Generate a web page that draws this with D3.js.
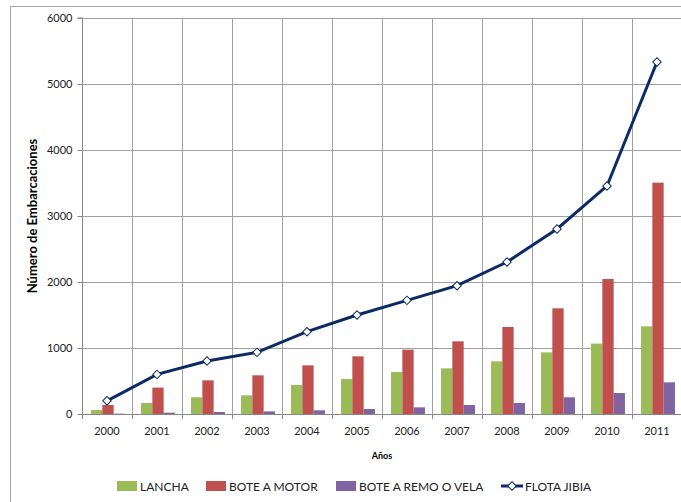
<!DOCTYPE html>
<html><head><meta charset="utf-8">
<script src="https://cdn.jsdelivr.net/npm/d3@7"></script>
<style>body{margin:0;background:#fff;} svg{display:block;font-family:Lato,"Liberation Sans",sans-serif;}</style>
</head><body>
<svg id="c" width="681" height="502"></svg>
<script>
const years = ["2000","2001","2002","2003","2004","2005","2006","2007","2008","2009","2010","2011"];
const lancha = [60,167,253,283,440,530,636,692,798,934,1066,1328];
const boteMotor = [136,400,510,586,737,874,975,1101,1318,1601,2045,3505];
const boteRemo = [5,20,30,40,56,76,101,136,167,253,318,480];
const flotaJibia = [200,600,803,934,1247,1500,1722,1944,2303,2803,3455,5333];
const yTicks = [0,1000,2000,3000,4000,5000,6000];
const barSeries = [
  {name:"LANCHA", values:lancha, color:"#9BBB59"},
  {name:"BOTE A MOTOR", values:boteMotor, color:"#C0504D"},
  {name:"BOTE A REMO O VELA", values:boteRemo, color:"#8064A2"}
];
const lineColor = "#0C2A66";

const svg = d3.select("#c");
const L=82, R=682, T=18, B=414;

// outer chart border
svg.append("path").attr("d","M10.5,520 V6.5 H700").attr("fill","none").attr("stroke","#a6a6a6");

const x = d3.scaleBand().domain(years).range([L,R]).paddingInner(0).paddingOuter(0);
const y = d3.scaleLinear().domain([0,6000]).range([B,T]);
const xb = d3.scaleBand().domain(barSeries.map(s=>s.name)).range([1,x.bandwidth()+1]).paddingInner(0).paddingOuter(0.71);

// horizontal grid
svg.append("g").selectAll("line").data(yTicks.slice(1)).join("line")
  .attr("x1",L).attr("x2",R).attr("y1",d=>Math.round(y(d))+0.5).attr("y2",d=>Math.round(y(d))+0.5)
  .attr("stroke","#a0a0a0");
// vertical grid
svg.append("g").selectAll("line").data(years.slice(1)).join("line")
  .attr("x1",d=>Math.round(x(d))+0.5).attr("x2",d=>Math.round(x(d))+0.5).attr("y1",T).attr("y2",B)
  .attr("stroke","#a0a0a0");

// bars
barSeries.forEach(s=>{
  svg.append("g").selectAll("rect").data(s.values).join("rect")
    .attr("x",(d,i)=>x(years[i])+xb(s.name))
    .attr("width",xb.bandwidth())
    .attr("y",d=>y(d)).attr("height",d=>B-y(d))
    .attr("fill",s.color);
});

// y axis
const ya = svg.append("g").attr("transform",`translate(${L+0.5},0)`)
  .call(d3.axisLeft(y).tickValues(yTicks).tickSize(5).tickPadding(5).tickFormat(d3.format("d")));
ya.select(".domain").attr("stroke","#868686").attr("d",`M-5,${T}H0V${B}`);
ya.selectAll(".tick line").attr("stroke","#868686");
ya.selectAll("text").attr("font-size",11).attr("fill","#222").style("font-family","Lato,sans-serif");

// x axis
const xa = svg.append("g").attr("transform",`translate(0,${B+0.5})`)
  .call(d3.axisBottom(x).tickSize(0).tickPadding(13));
xa.select(".domain").attr("stroke","#868686").attr("d",`M${L},0H${R}`);
xa.selectAll("text").attr("font-size",11).attr("fill","#222").style("font-family","Lato,sans-serif");
svg.append("g").selectAll("line").data(years).join("line")
  .attr("x1",d=>Math.round(x(d))+0.5).attr("x2",d=>Math.round(x(d))+0.5)
  .attr("y1",B).attr("y2",B+5).attr("stroke","#868686");

// line
const cx = d=>x(d)+x.bandwidth()/2;
svg.append("path").datum(flotaJibia)
  .attr("d",d3.line().x((d,i)=>cx(years[i])).y(d=>y(d)))
  .attr("fill","none").attr("stroke",lineColor).attr("stroke-width",3);
svg.append("g").selectAll("path").data(flotaJibia).join("path")
  .attr("transform",(d,i)=>`translate(${cx(years[i])},${y(d)}) rotate(45)`)
  .attr("d",d3.symbol().type(d3.symbolSquare).size(36))
  .attr("fill","#fff").attr("stroke",lineColor).attr("stroke-width",1);

// axis titles
svg.append("text").attr("transform",`translate(37,${(T+B)/2}) rotate(-90)`)
  .attr("text-anchor","middle").attr("font-size",13).attr("font-weight","bold").attr("fill","#000")
  .text("Número de Embarcaciones");
svg.append("text").attr("x",(L+R)/2).attr("y",459).attr("text-anchor","middle")
  .attr("font-size",9).attr("font-weight","bold").attr("fill","#000").text("Años");

// legend
const legX = [117,206,336];
barSeries.forEach((s,i)=>{
  svg.append("rect").attr("x",legX[i]).attr("y",481).attr("width",20).attr("height",10).attr("fill",s.color);
  svg.append("text").attr("x",legX[i]+23).attr("y",490.5).attr("font-size",12).attr("fill","#222").text(s.name);
});
svg.append("line").attr("x1",501).attr("x2",523).attr("y1",486).attr("y2",486).attr("stroke",lineColor).attr("stroke-width",3);
svg.append("path").attr("transform","translate(512,486) rotate(45)").attr("d",d3.symbol().type(d3.symbolSquare).size(36))
  .attr("fill","#fff").attr("stroke",lineColor);
svg.append("text").attr("x",525).attr("y",490.5).attr("font-size",12).attr("fill","#222").text("FLOTA JIBIA");
</script>
</body></html>
